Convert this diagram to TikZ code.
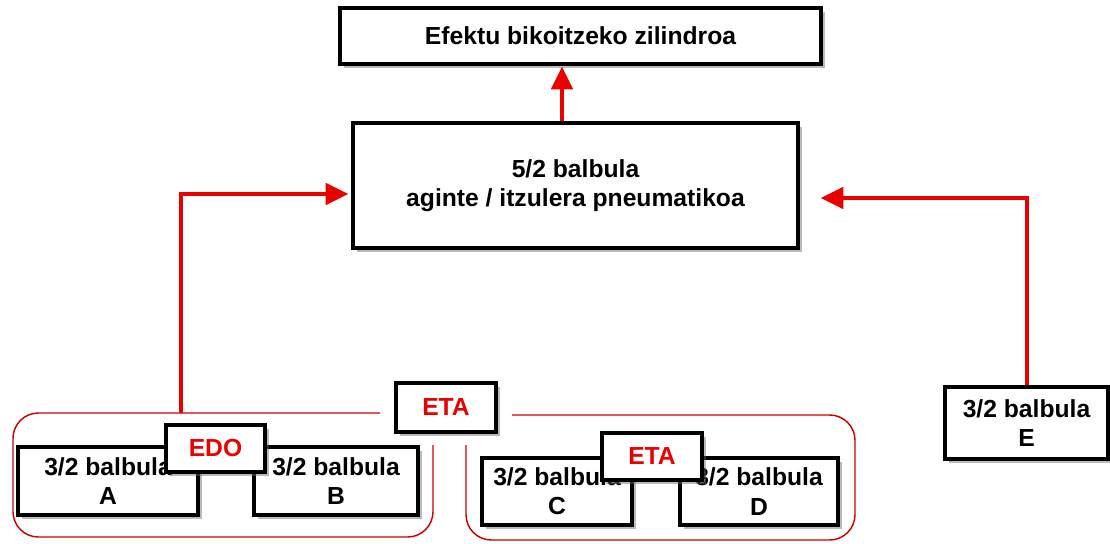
\documentclass[tikz,border=0pt]{standalone}
\usepackage{fontspec}
\setmainfont{Liberation Sans}
\usetikzlibrary{arrows.meta,shadows,calc}

\definecolor{flowred}{RGB}{235,0,0}
\definecolor{groupred}{RGB}{205,0,0}

\begin{document}
\begin{tikzpicture}[x=0.75pt,y=0.75pt,yscale=-1,xscale=1,
    valvebox/.style={draw=black, line width=2.6pt, fill=white, align=center, inner sep=0pt,
      font=\bfseries\fontsize{18.5}{22}\selectfont,
      drop shadow={shadow xshift=3pt, shadow yshift=-3pt, opacity=0.45, fill=black!60}},
    logicbox/.style={valvebox, text=flowred},
    flow/.style={draw=flowred, line width=3pt, -{Triangle[length=17pt,width=16pt]}},
    group/.style={draw=groupred, line width=1.1pt, rounded corners=19pt}]
\useasboundingbox (0,0) rectangle (1110,543);

%Group outlines (open where the ETA label sits)
\draw [group] (380,413) -- (13,413) -- (13,537) -- (433,537) -- (433,445) ;
\draw [group] (512,415) -- (855,415) -- (855,540) -- (466,540) -- (466,445) ;

%Cylinder and main valve
\node [valvebox, minimum width=360.75pt, minimum height=42pt] (cyl) at (580.5,36) {Efektu bikoitzeko zilindroa};
\node [valvebox, minimum width=333.75pt, minimum height=93.75pt] (valve52) at (575.5,185.5) {5/2 balbula\\aginte / itzulera pneumatikoa};

%3/2 valves
\node [valvebox, minimum width=135pt, minimum height=51pt] (valveA) at (108,481) {3/2 balbula\\A};
\node [valvebox, minimum width=123pt, minimum height=51pt] (valveB) at (336,481) {3/2 balbula\\B};
\node [valvebox, minimum width=112.5pt, minimum height=50.25pt] (valveC) at (557,491.5) {3/2 balbula\\C};
\node [valvebox, minimum width=118.5pt, minimum height=50.25pt] (valveD) at (759,491.5) {3/2 balbula\\D};
\node [valvebox, minimum width=122.25pt, minimum height=54pt] (valveE) at (1026.5,423) {3/2 balbula\\E};

%Logic labels
\node [logicbox, minimum width=74.25pt, minimum height=35.25pt] (edo) at (215.5,448.5) {EDO};
\node [logicbox, minimum width=75pt, minimum height=35.25pt] (etaIn) at (652,456.5) {ETA};
\node [logicbox, minimum width=75pt, minimum height=36.75pt] (etaTop) at (446,407.5) {ETA};

%Signal lines
\coordinate (orOut) at (181,413);
\draw [flow] ($(valve52.north)+(-13.5,0)$) -- ($(cyl.south)+(-18.5,1)$) ;
\draw [flow] (orOut) |- ($(valve52.west)+(-3,8.5)$) ;
\draw [flow] (valveE.north) |- ($(valve52.east)+(21,12.5)$) ;

\end{tikzpicture}
\end{document}
